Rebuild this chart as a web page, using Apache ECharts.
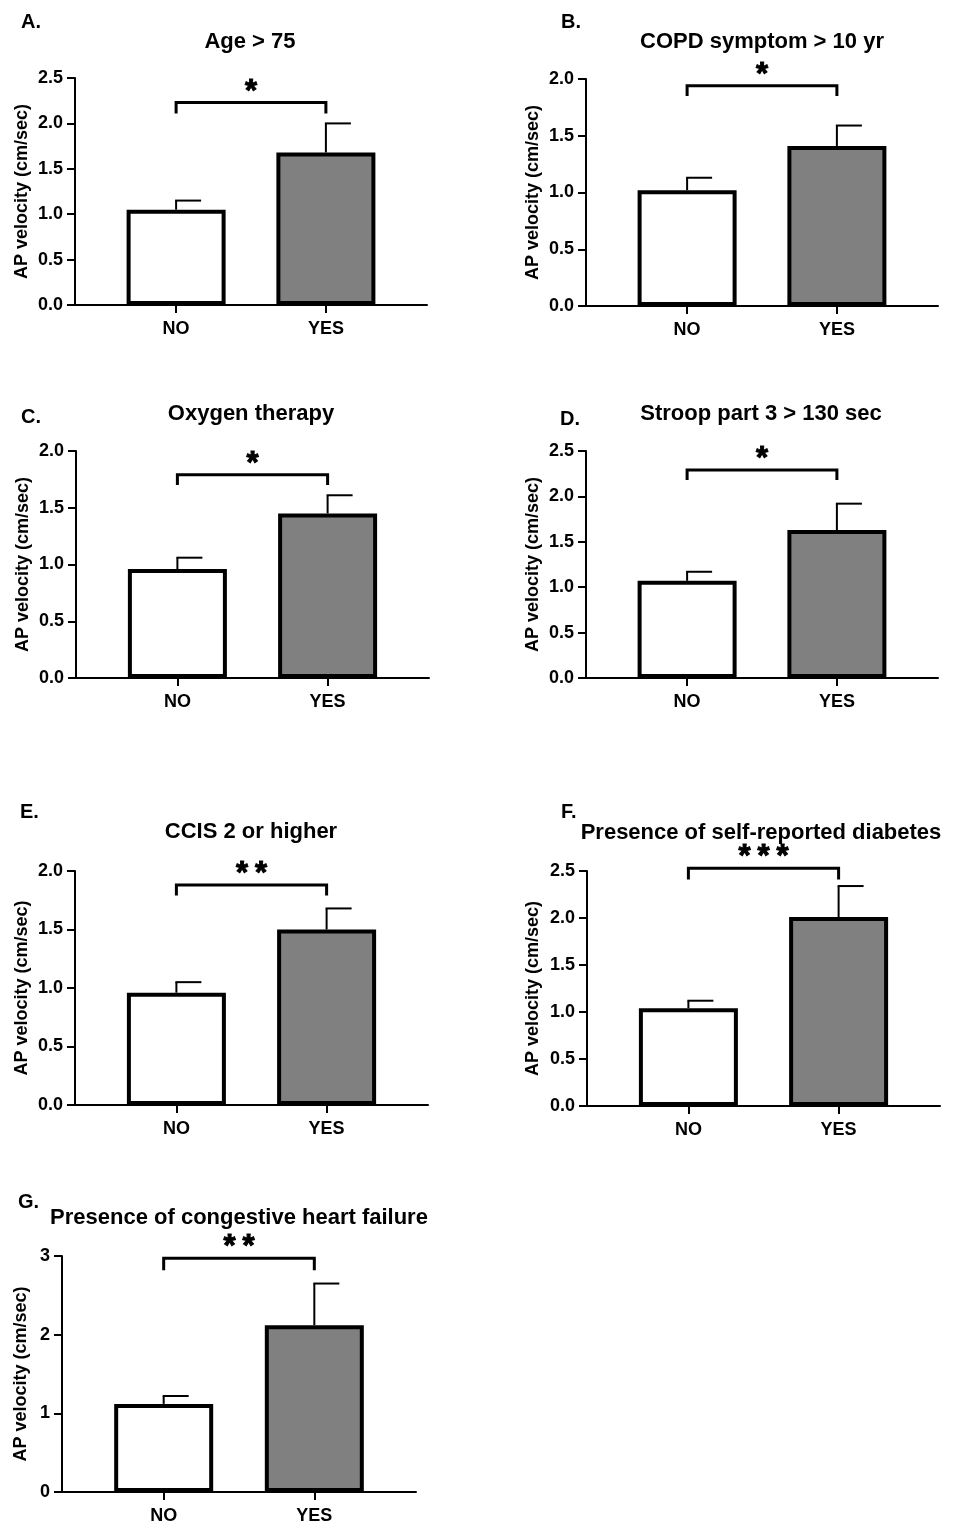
<!DOCTYPE html>
<html lang="en">
<head>
<meta charset="UTF-8">
<title>AP velocity</title>
<style>
    html, body { margin: 0; padding: 0; background: #fff; }
    #chart { width: 954px; height: 1527px; }
</style>
</head>
<body>
<div id="chart"></div>
<script src="https://cdn.jsdelivr.net/npm/echarts@6/dist/echarts.min.js"></script>
<script type="text/javascript">
    var panelLetters = ['A.', 'B.', 'C.', 'D.', 'E.', 'F.', 'G.'];
    var panelTitles = ['Age > 75', 'COPD symptom > 10 yr', 'Oxygen therapy', 'Stroop part 3 > 130 sec',
        'CCIS 2 or higher', 'Presence of self-reported diabetes', 'Presence of congestive heart failure'];
    var categories = ['NO', 'YES'];
    var meanNo = [1.05, 1.02, 0.96, 1.07, 0.96, 1.04, 1.12];
    var meanYes = [1.68, 1.41, 1.45, 1.63, 1.50, 2.01, 2.12];
    var upperNo = [1.15, 1.13, 1.06, 1.17, 1.05, 1.12, 1.22];
    var upperYes = [2.00, 1.59, 1.61, 1.92, 1.68, 2.34, 2.65];
    var yMax = [2.5, 2.0, 2.0, 2.5, 2.0, 2.5, 3];
    var yStep = [0.5, 0.5, 0.5, 0.5, 0.5, 0.5, 1];
    var bracketTop = [2.23, 1.94, 1.79, 2.29, 1.88, 2.53, 2.97];
    var bracketEnd = [2.11, 1.85, 1.70, 2.18, 1.79, 2.41, 2.82];
    var sigMarks = ['*', '*', '*', '*', '**', '***', '**'];
    var yName = 'AP velocity (cm/sec)';

    var FONT = '"Liberation Sans", Arial, sans-serif';

    // plot boxes in px: left, top, width, height, y-name gap
    var boxes = [
        [75, 78, 352, 227, 44],
        [586, 79, 352, 227, 44],
        [76, 451, 353, 227, 44],
        [586, 451, 352, 227, 44],
        [75, 871, 353, 234, 44],
        [587, 871, 353, 235, 45],
        [62, 1256, 354, 236, 32]
    ];
    var titlePos = [[250, 42], [762, 42], [251, 414], [761, 414], [251, 832], [761, 833], [239, 1218]];
    var letterPos = [[21, 22], [561, 22], [21, 417], [560, 419], [20, 812], [561, 812], [18, 1202]];

    var chart = echarts.init(document.getElementById('chart'));

    var grids = [], xAxes = [], yAxes = [], series = [], graphics = [];

    boxes.forEach(function (b, i) {
        grids.push({left: b[0], top: b[1], width: b[2], height: b[3], containLabel: false});

        xAxes.push({
            type: 'value', gridIndex: i, min: -0.675, max: 1.675,
            splitLine: {show: false},
            axisLine: {show: true, onZero: false, lineStyle: {color: '#000', width: 2}},
            axisTick: {show: true, customValues: [0, 1], length: 8, lineStyle: {color: '#000', width: 2}},
            axisLabel: {
                customValues: [0, 1], margin: 15, color: '#000', fontSize: 18, fontWeight: 'bold', fontFamily: FONT,
                formatter: function (v) { return categories[Math.round(v)]; }
            }
        });

        yAxes.push({
            type: 'value', gridIndex: i, min: 0, max: yMax[i], interval: yStep[i],
            splitLine: {show: false},
            axisLine: {show: true, onZero: false, lineStyle: {color: '#000', width: 2}},
            axisTick: {show: true, length: 8, lineStyle: {color: '#000', width: 2}},
            axisLabel: {
                margin: 12, color: '#000', fontSize: 18, fontWeight: 'bold', fontFamily: FONT,
                formatter: function (v) { return yStep[i] < 1 ? v.toFixed(1) : String(v); }
            },
            name: yName, nameLocation: 'middle', nameRotate: 90, nameGap: b[4],
            nameTextStyle: {color: '#000', fontSize: 18, fontWeight: 'bold', fontFamily: FONT}
        });

        // bars
        series.push({
            type: 'bar', xAxisIndex: i, yAxisIndex: i, barWidth: 99, z: 3,
            itemStyle: {borderColor: '#000', borderWidth: 4},
            data: [
                {value: [0, meanNo[i]], itemStyle: {color: '#fff'}},
                {value: [1, meanYes[i]], itemStyle: {color: '#808080'}}
            ]
        });

        // error bars (upper only, cap to the right)
        series.push({
            type: 'custom', xAxisIndex: i, yAxisIndex: i, z: 2,
            encode: {x: 0, y: [1, 2]},
            data: [[0, meanNo[i], upperNo[i]], [1, meanYes[i], upperYes[i]]],
            renderItem: function (params, api) {
                var p0 = api.coord([api.value(0), api.value(1)]);
                var p1 = api.coord([api.value(0), api.value(2)]);
                var st = {stroke: '#000', lineWidth: 2};
                return {
                    type: 'group', children: [
                        {type: 'line', shape: {x1: p0[0], y1: p0[1], x2: p1[0], y2: p1[1]}, style: st},
                        {type: 'line', shape: {x1: p1[0] - 1, y1: p1[1], x2: p1[0] + 25, y2: p1[1]}, style: st}
                    ]
                };
            }
        });

        // significance bracket and stars
        series.push({
            type: 'custom', xAxisIndex: i, yAxisIndex: i, z: 4, clip: false,
            encode: {x: [0, 1], y: [2, 3]},
            data: [[0, 1, bracketTop[i], bracketEnd[i]]],
            renderItem: function (params, api) {
                var a = api.coord([api.value(0), api.value(3)]);
                var b = api.coord([api.value(0), api.value(2)]);
                var c = api.coord([api.value(1), api.value(2)]);
                var d = api.coord([api.value(1), api.value(3)]);
                var kids = [{
                    type: 'polyline',
                    shape: {points: [a, b, c, d]},
                    style: {stroke: '#000', lineWidth: 3, fill: null, lineJoin: 'miter'}
                }];
                var n = sigMarks[i].length;
                var mid = (b[0] + c[0]) / 2;
                for (var k = 0; k < n; k++) {
                    kids.push({
                        type: 'text',
                        x: mid + (k - (n - 1) / 2) * 19, y: b[1] + 5,
                        style: {
                            text: '*', fill: '#000', stroke: '#000', lineWidth: 1,
                            align: 'center', verticalAlign: 'bottom',
                            font: 'bold 31px ' + FONT
                        }
                    });
                }
                return {type: 'group', children: kids};
            }
        });

        graphics.push({
            type: 'text', x: titlePos[i][0], y: titlePos[i][1],
            style: {text: panelTitles[i], fill: '#000', align: 'center', verticalAlign: 'middle', font: 'bold 22px ' + FONT}
        });
        graphics.push({
            type: 'text', x: letterPos[i][0], y: letterPos[i][1],
            style: {text: panelLetters[i], fill: '#000', align: 'left', verticalAlign: 'middle', font: 'bold 20px ' + FONT}
        });
    });

    chart.setOption({
        backgroundColor: '#fff',
        animation: false,
        grid: grids,
        xAxis: xAxes,
        yAxis: yAxes,
        series: series,
        graphic: graphics
    });
</script>
</body>
</html>
